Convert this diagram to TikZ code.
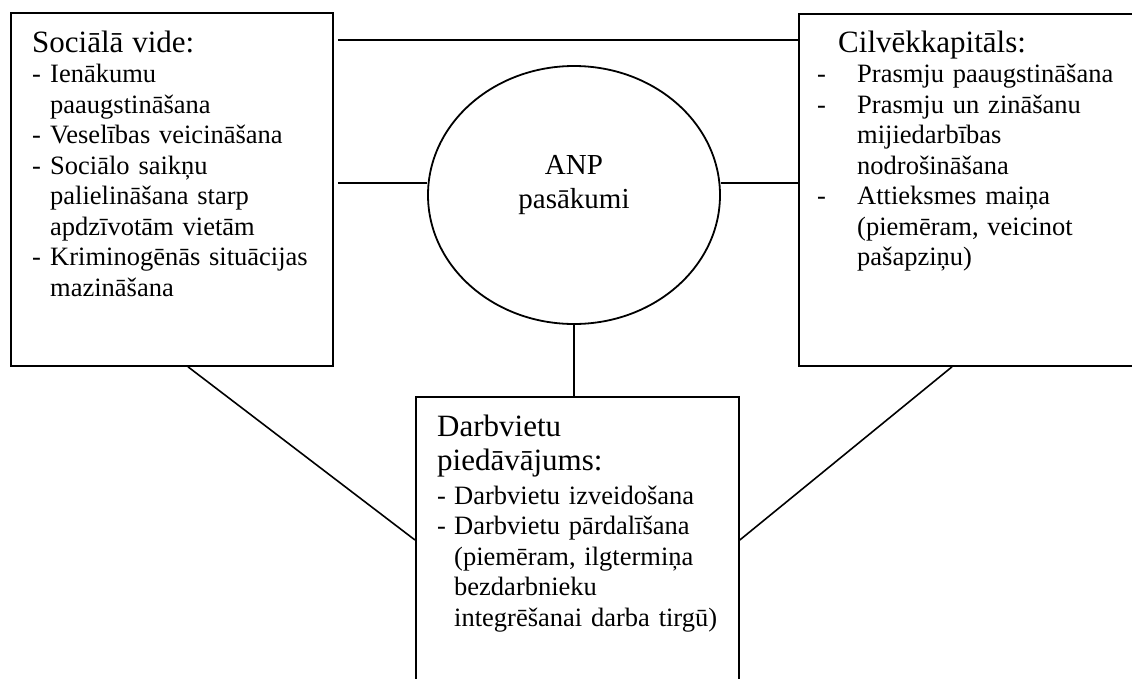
\documentclass[tikz,border=0pt]{standalone}
\usepackage{fontspec}
\setmainfont{Liberation Serif}
\usetikzlibrary{shapes.geometric,calc}

% font sizes for headings and list entries
\newcommand\headfont{\fontsize{31}{34}\selectfont}
\newcommand\itemfont{\fontsize{26.5}{30.5}\selectfont}
% start of a text block: no paragraph indent or paragraph skip
\newcommand\blockstart{\setlength{\parindent}{0pt}\setlength{\parskip}{0pt}}
% a list entry: dash, then text with a hanging indent of #1
\newcommand\dashitem[1]{\par\setlength{\hangindent}{#1}\hangafter=1 \noindent\makebox[#1][l]{-}}

\begin{document}
\begin{tikzpicture}[x=1pt,y=1pt,
  panel/.style={draw, line width=1.8pt, rectangle, inner sep=0pt, anchor=north west},
  link/.style={line width=1.6pt},
  blocktext/.style={anchor=base west, inner sep=0pt, text width=#1, font=\itemfont},
]
\useasboundingbox (0,0) rectangle (1132,-678);
\clip (0,0) rectangle (1132,-678);

% panels and the central ellipse
\node[panel, minimum width=322pt, minimum height=353pt] (lbox) at (10,-12) {};
\node[panel, minimum width=345pt, minimum height=352pt] (rbox) at (798,-13) {};
\node[panel, minimum width=323pt, minimum height=300pt] (bbox) at (415,-396) {};
\node[draw, ellipse, line width=1.8pt, minimum width=292pt, minimum height=258pt,
      inner sep=0pt] (anp) at (574,-195) {};

% texts
\node[blocktext=300pt] (ltext) at ([shift={(22pt,-40pt)}]lbox.north west) {\blockstart
  {\headfont Sociālā vide:\par}
  \dashitem{18pt}Ienākumu\newline paaugstināšana
  \dashitem{18pt}Veselības veicināšana
  \dashitem{18pt}Sociālo saikņu\newline palielināšana starp\newline apdzīvotām vietām
  \dashitem{18pt}Kriminogēnās situācijas\newline mazināšana\par};

\node[blocktext=315pt] (rtext) at ([shift={(19pt,-39pt)}]rbox.north west) {\blockstart
  {\headfont\hspace*{21pt}Cilvēkkapitāls:\par}
  \dashitem{40pt}Prasmju paaugstināšana
  \dashitem{40pt}Prasmju un zināšanu\newline mijiedarbības\newline nodrošināšana
  \dashitem{40pt}Attieksmes maiņa\newline (piemēram, veicinot\newline pašapziņu)\par};

\node[blocktext=300pt] (btext) at ([shift={(22pt,-40pt)}]bbox.north west) {\blockstart
  {\headfont Darbvietu\newline piedāvājums:\par}
  \vspace{3.5pt}
  \dashitem{17pt}Darbvietu izveidošana
  \dashitem{17pt}Darbvietu pārdalīšana\newline (piemēram, ilgtermiņa\newline bezdarbnieku\newline integrēšanai darba tirgū)\par};

\node[anchor=base, inner sep=0pt, text width=200pt, align=center,
      font=\fontsize{29}{34}\selectfont] (anptext) at ([yshift=21pt]anp.center)
      {ANP\\pasākumi};

% connectors
\coordinate (ltop) at ([yshift=-28pt]lbox.north east);
\coordinate (lmid) at ([yshift=-171pt]lbox.north east);
\draw[link, shorten <=4pt] (ltop) -- (ltop -| rbox.west);
\draw[link, shorten <=4pt] (lmid) -- (lmid -| anp.west);
\draw[link] (lmid -| anp.east) -- (lmid -| rbox.west);
\draw[link] (anp.south) -- (anp.south |- bbox.north);
\draw[link] ([xshift=178pt]lbox.south west) -- ([yshift=-144pt]bbox.north west);
\draw[link] ([xshift=154pt]rbox.south west) -- ([yshift=-144pt]bbox.north east);
\end{tikzpicture}
\end{document}
